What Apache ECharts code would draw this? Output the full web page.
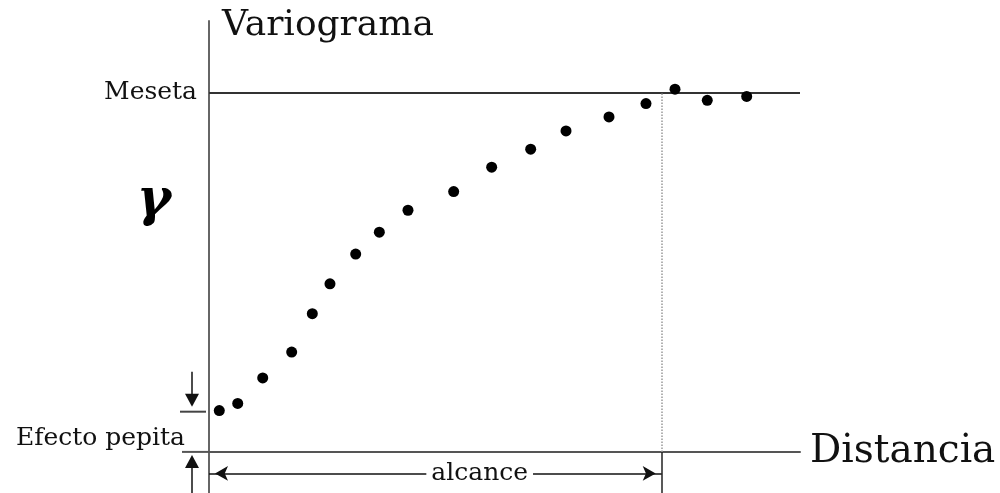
<!DOCTYPE html>
<html>
<head>
<meta charset="utf-8">
<script src="https://cdn.jsdelivr.net/npm/echarts@6/dist/echarts.min.js"></script>
<style>
  html, body { margin: 0; padding: 0; background: #fff; }
  #chart { width: 1000px; height: 493px; }
</style>
</head>
<body>
<div id="chart"></div>
<script>
// Experimental semivariogram: lag distance vs. semivariance
const distances = [1.74, 4.86, 9.09, 13.99, 17.48, 20.47, 24.82, 28.82, 33.67, 41.40,
                   47.83, 54.43, 60.41, 67.68, 73.94, 78.85, 84.31, 90.98];
const gammas    = [1.15, 1.35, 2.06, 2.78, 3.85, 4.68, 5.51, 6.12, 6.73, 7.25,
                   7.93, 8.43, 8.94, 9.33, 9.70, 10.10, 9.79, 9.90];

// Model parameters
const SILL = 10;        // meseta
const RANGE = 76.6;     // alcance
const NUGGET = 1.12;    // efecto pepita

// Axis extents
const X_MIN = 0, X_MAX = 100;
const Y_MIN = -1.2, Y_MAX = 12;
const ALCANCE_Y = -0.6;     // level of the range arrow below the axis
const ALCANCE_LABEL_X = 45.8;

// Labels
const TITLE = 'Variograma';
const X_NAME = 'Distancia';
const SILL_LABEL = 'Meseta';
const NUGGET_LABEL = 'Efecto pepita';
const RANGE_LABEL = 'alcance';
const GAMMA = 'γ';

const SERIF = '"DejaVu Serif", "Liberation Serif", serif';

const points = distances.map((d, i) => [d, gammas[i]]);

const chart = echarts.init(document.getElementById('chart'), null, { renderer: 'canvas' });

chart.setOption({
  animation: false,
  backgroundColor: '#ffffff',
  grid: { left: 209, width: 591, top: 21, height: 474, containLabel: false, outerBoundsMode: 'none' },
  xAxis: {
    type: 'value', min: X_MIN, max: X_MAX,
    name: X_NAME, nameLocation: 'end', nameGap: 10,
    nameTextStyle: { fontFamily: SERIF, fontSize: 39, color: '#111' },
    axisLine: { show: true, onZero: true, lineStyle: { color: '#555', width: 2 } },
    axisTick: { show: false }, axisLabel: { show: false }, splitLine: { show: false }
  },
  yAxis: {
    type: 'value', min: Y_MIN, max: Y_MAX,
    axisLine: { show: true, onZero: true, lineStyle: { color: '#666', width: 2 } },
    axisTick: { show: false }, axisLabel: { show: false }, splitLine: { show: false }
  },
  series: [
    {
      type: 'scatter',
      data: points,
      symbol: 'circle',
      symbolSize: 11,
      itemStyle: { color: '#000', opacity: 1 },
      z: 5,
      markLine: {
        silent: true,
        symbol: 'none',
        animation: false,
        data: [
          // sill
          [
            { coord: [X_MIN, SILL], lineStyle: { color: '#333', width: 2, type: 'solid' },
              label: { show: true, position: 'start', formatter: SILL_LABEL, distance: 12,
                       fontFamily: SERIF, fontSize: 25, color: '#111' } },
            { coord: [X_MAX, SILL] }
          ],
          // range (dotted guide up to the sill)
          [
            { coord: [RANGE, 0], lineStyle: { color: '#999', width: 1.5, type: 'dotted' },
              label: { show: false } },
            { coord: [RANGE, SILL] }
          ],
          // range tick below the axis
          [
            { coord: [RANGE, 0], lineStyle: { color: '#222', width: 1.5, type: 'solid' },
              label: { show: false } },
            { coord: [RANGE, Y_MIN] }
          ],
          // range arrow
          [
            { coord: [X_MIN, ALCANCE_Y], symbol: 'arrow', symbolSize: [11, 13], symbolOffset: [0, 6],
              lineStyle: { color: '#111', width: 1.5, type: 'solid' }, label: { show: false } },
            { coord: [RANGE, ALCANCE_Y], symbol: 'arrow', symbolSize: [11, 13], symbolOffset: [0, 6] }
          ]
        ]
      }
    }
  ]
});

// Annotations placed outside the plotting area, positioned through the axes' scales
function drawAnnotations() {
  const origin = chart.convertToPixel({ gridIndex: 0 }, [0, 0]);
  const nug = chart.convertToPixel({ gridIndex: 0 }, [0, NUGGET]);
  const lab = chart.convertToPixel({ gridIndex: 0 }, [ALCANCE_LABEL_X, ALCANCE_Y]);
  const ax = origin[0] - 17;
  const lineStyle = { stroke: '#111', lineWidth: 1.5 };
  const headW = 7, headH = 13;

  chart.setOption({
    graphic: [
      { type: 'text', left: 222, top: 8, z: 100,
        style: { text: TITLE, font: '36px ' + SERIF, fill: '#111' } },
      { type: 'text', x: 154, y: 201, z: 100,
        style: { text: GAMMA, font: 'bold italic 52px ' + SERIF, fill: '#000',
                 align: 'center', verticalAlign: 'middle' } },
      // nugget level bar
      { type: 'line', z: 100, shape: { x1: origin[0] - 29, y1: nug[1], x2: origin[0] - 3, y2: nug[1] },
        style: { stroke: '#444', lineWidth: 2 } },
      // x-axis extension under the nugget label
      { type: 'line', z: 100, shape: { x1: origin[0] - 27, y1: origin[1], x2: origin[0], y2: origin[1] },
        style: { stroke: '#555', lineWidth: 2 } },
      // down arrow onto the nugget level
      { type: 'line', z: 100, shape: { x1: ax, y1: nug[1] - 40, x2: ax, y2: nug[1] - 10 }, style: lineStyle },
      { type: 'polygon', z: 100,
        shape: { points: [[ax - headW, nug[1] - 5 - headH], [ax + headW, nug[1] - 5 - headH], [ax, nug[1] - 5]] },
        style: { fill: '#111' } },
      // up arrow onto the axis
      { type: 'line', z: 100, shape: { x1: ax, y1: 493, x2: ax, y2: origin[1] + 12 }, style: lineStyle },
      { type: 'polygon', z: 100,
        shape: { points: [[ax - headW, origin[1] + 3 + headH], [ax + headW, origin[1] + 3 + headH], [ax, origin[1] + 3]] },
        style: { fill: '#111' } },
      { type: 'text', x: origin[0] - 24, y: 438, z: 100,
        style: { text: NUGGET_LABEL, font: '25px ' + SERIF, fill: '#111',
                 align: 'right', verticalAlign: 'middle' } },
      // range label over the arrow
      { type: 'text', x: lab[0], y: lab[1], z: 100,
        style: { text: RANGE_LABEL, font: '25px ' + SERIF, fill: '#111',
                 align: 'center', verticalAlign: 'middle',
                 backgroundColor: '#fff', padding: [0, 5] } }
    ]
  });
}
drawAnnotations();
</script>
</body>
</html>
